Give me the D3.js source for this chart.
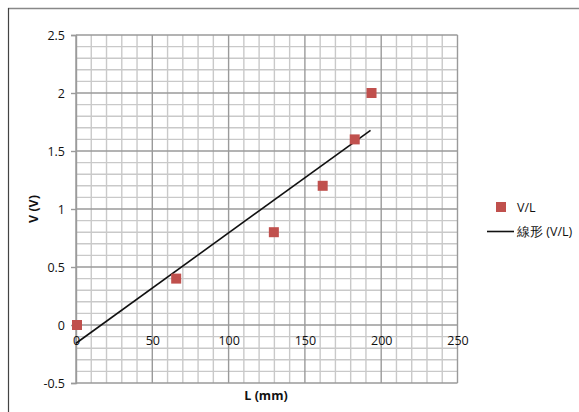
<!DOCTYPE html>
<html>
<head>
<meta charset="utf-8">
<script src="https://cdn.jsdelivr.net/npm/d3@7"></script>
<style>
  html, body { margin: 0; padding: 0; background: #fff; }
  svg { display: block; }
  text { font-family: "Open Sans", "Liberation Sans", sans-serif; fill: #111; }
</style>
</head>
<body>
<svg id="chart" width="579" height="412"></svg>
<script>
// Measured length L (mm) and voltage V (V)
const lengths = [0, 65, 129, 161, 182, 193];
const voltages = [0, 0.4, 0.8, 1.2, 1.6, 2.0];
const xTicks = [0, 50, 100, 150, 200, 250];
const yTicks = [-0.5, 0, 0.5, 1, 1.5, 2, 2.5];
const seriesName = "V/L";
const trendName = "線形 (V/L)";
const xTitle = "L (mm)";
const yTitle = "V (V)";

const svg = d3.select("#chart");
const W = 579, H = 412;

// chart frame
svg.append("line").attr("x1", 8).attr("x2", W).attr("y1", 8.5).attr("y2", 8.5)
  .attr("stroke", "#888").attr("stroke-width", 1.5);
svg.append("line").attr("x1", 8.5).attr("x2", 8.5).attr("y1", 8).attr("y2", H)
  .attr("stroke", "#444").attr("stroke-width", 1.2);

const x = d3.scaleLinear().domain([0, 250]).range([76, 457.5]);
const y = d3.scaleLinear().domain([-0.5, 2.5]).range([383, 35]);

const grid = svg.append("g");
// minor grid
d3.range(0, 251, 10).filter(v => v % 50 !== 0).forEach(v => {
  grid.append("line").attr("x1", x(v)).attr("x2", x(v)).attr("y1", y(2.5)).attr("y2", y(-0.5))
    .attr("stroke", "#c9c9c9").attr("stroke-width", 1.4);
});
d3.range(-5, 26, 1).map(v => v / 10).filter((v, i) => (i % 5) !== 0).forEach(v => {
  grid.append("line").attr("x1", x(0)).attr("x2", x(250)).attr("y1", y(v)).attr("y2", y(v))
    .attr("stroke", "#c9c9c9").attr("stroke-width", 1.4);
});
// major grid
xTicks.forEach(v => {
  grid.append("line").attr("x1", x(v)).attr("x2", x(v)).attr("y1", y(2.5)).attr("y2", y(-0.5))
    .attr("stroke", "#9a9a9a").attr("stroke-width", 1.4);
});
yTicks.forEach(v => {
  grid.append("line").attr("x1", x(0)).attr("x2", x(250)).attr("y1", y(v)).attr("y2", y(v))
    .attr("stroke", "#9a9a9a").attr("stroke-width", 1.4);
});

// y axis
const yAxis = d3.axisLeft(y).tickValues(yTicks).tickSize(5).tickPadding(6)
  .tickFormat(d => String(d));
const gy = svg.append("g").attr("transform", `translate(${x(0)},0)`).call(yAxis);
gy.select(".domain").attr("stroke", "#9a9a9a").attr("stroke-width", 1.4);
gy.selectAll(".tick line").attr("stroke", "#9a9a9a").attr("stroke-width", 1.4);
gy.selectAll("text").style("font-size", "12.5px").attr("fill", "#111");

// x axis crosses at V = 0, labels below
const xAxis = d3.axisBottom(x).tickValues(xTicks).tickSize(0).tickPadding(11)
  .tickFormat(d => String(d));
const gx = svg.append("g").attr("transform", `translate(0,${y(0)})`).call(xAxis);
gx.select(".domain").remove();
gx.selectAll("text").style("font-size", "12.5px").attr("fill", "#111");

// linear trend line (least squares)
const n = lengths.length;
const mx = d3.mean(lengths), my = d3.mean(voltages);
let sxy = 0, sxx = 0;
for (let i = 0; i < n; i++) {
  sxy += (lengths[i] - mx) * (voltages[i] - my);
  sxx += (lengths[i] - mx) * (lengths[i] - mx);
}
const slope = sxy / sxx, intercept = my - slope * mx;
const xMin = d3.min(lengths), xMax = d3.max(lengths);
svg.append("line")
  .attr("x1", x(xMin)).attr("y1", y(intercept + slope * xMin))
  .attr("x2", x(xMax)).attr("y2", y(intercept + slope * xMax))
  .attr("stroke", "#111").attr("stroke-width", 1.6);

// data markers
const m = 10;
svg.append("g").selectAll("rect").data(lengths.map((l, i) => [l, voltages[i]]))
  .join("rect")
  .attr("x", d => x(d[0]) - m / 2 + 1).attr("y", d => y(d[1]) - m / 2)
  .attr("width", m).attr("height", m)
  .attr("fill", "#c0504d");

// axis titles
svg.append("text").attr("x", 266).attr("y", 400).attr("text-anchor", "middle")
  .style("font-size", "12.5px").style("font-weight", "bold").text(xTitle);
svg.append("text").attr("transform", "translate(38,209) rotate(-90)").attr("text-anchor", "middle")
  .style("font-size", "12.5px").style("font-weight", "bold").text(yTitle);

// legend
const lg = svg.append("g");
lg.append("rect").attr("x", 496).attr("y", 202).attr("width", 10).attr("height", 10).attr("fill", "#c0504d");
lg.append("text").attr("x", 517).attr("y", 211.5).style("font-size", "12.5px").text(seriesName);
lg.append("line").attr("x1", 487).attr("x2", 514).attr("y1", 231.5).attr("y2", 231.5)
  .attr("stroke", "#111").attr("stroke-width", 1.6);
lg.append("text").attr("x", 517).attr("y", 236).style("font-size", "12.5px").text(trendName);
</script>
</body>
</html>
